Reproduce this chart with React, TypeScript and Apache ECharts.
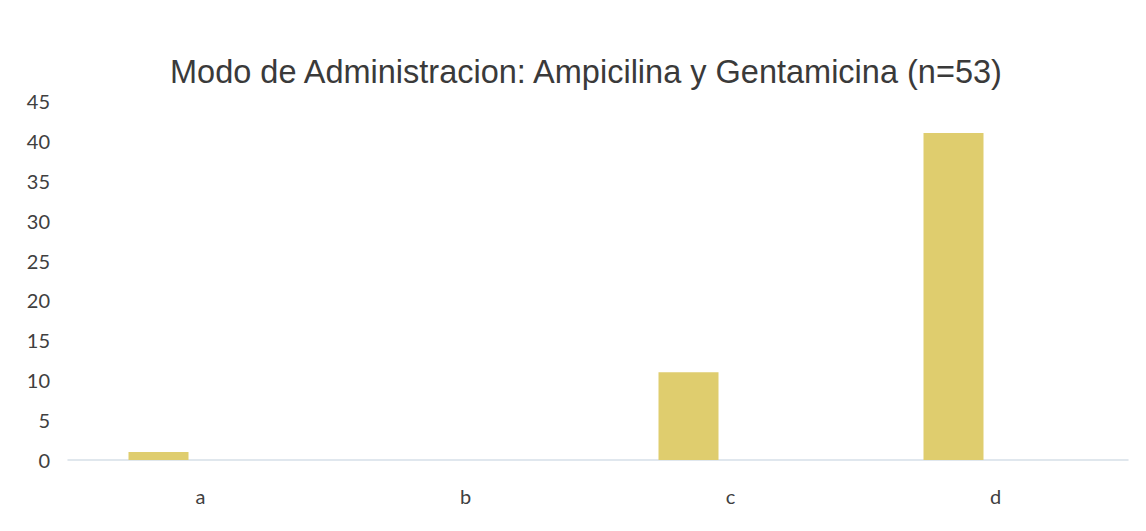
import React, { useEffect, useRef } from "react";
import * as echarts from "echarts";

const categories = ["a", "b", "c", "d"];
const values = [1, 0, 11, 41];
const emptySeries = [null, null, null, null];
const yTicks = { min: 0, max: 45, interval: 5 };
const titleText = "Modo de Administracion: Ampicilina y Gentamicina (n=53)";

export default function App() {
  const ref = useRef<HTMLDivElement>(null);
  useEffect(() => {
    if (!ref.current) return;
    const chart = echarts.init(ref.current, undefined, { renderer: "svg" });
    chart.setOption({
      animation: false,
      backgroundColor: "#ffffff",
      title: {
        text: titleText,
        left: 157,
        top: 42,
        textStyle: {
          fontFamily: "Liberation Sans, Arial, sans-serif",
          fontSize: 32.5,
          fontWeight: "normal",
          color: "#3a3a3a",
        },
      },
      grid: { left: 60, right: 10, top: 93, bottom: 63, containLabel: false },
      xAxis: {
        type: "category",
        data: categories,
        axisLine: { show: true, lineStyle: { color: "#d6dfe8", width: 1.5 } },
        axisTick: { show: false },
        axisLabel: {
          margin: 26,
          fontFamily: "Lato, 'Open Sans', sans-serif",
          fontSize: 20,
          color: "#404040",
        },
      },
      yAxis: {
        type: "value",
        min: yTicks.min,
        max: yTicks.max,
        interval: yTicks.interval,
        splitLine: { show: false },
        axisLine: { show: false },
        axisTick: { show: false },
        axisLabel: {
          margin: 18,
          fontFamily: "Lato, 'Open Sans', sans-serif",
          fontSize: 20,
          color: "#404040",
        },
      },
      series: [
        {
          type: "bar",
          data: values,
          barWidth: 60,
          barGap: "40%",
          itemStyle: { color: "#dfcd6e" },
        },
        {
          type: "bar",
          data: emptySeries,
          barWidth: 60,
          itemStyle: { color: "#dfcd6e" },
        },
      ],
    });
    return () => chart.dispose();
  }, []);
  return <div ref={ref} style={{ width: 1130, height: 515 }} />;
}
